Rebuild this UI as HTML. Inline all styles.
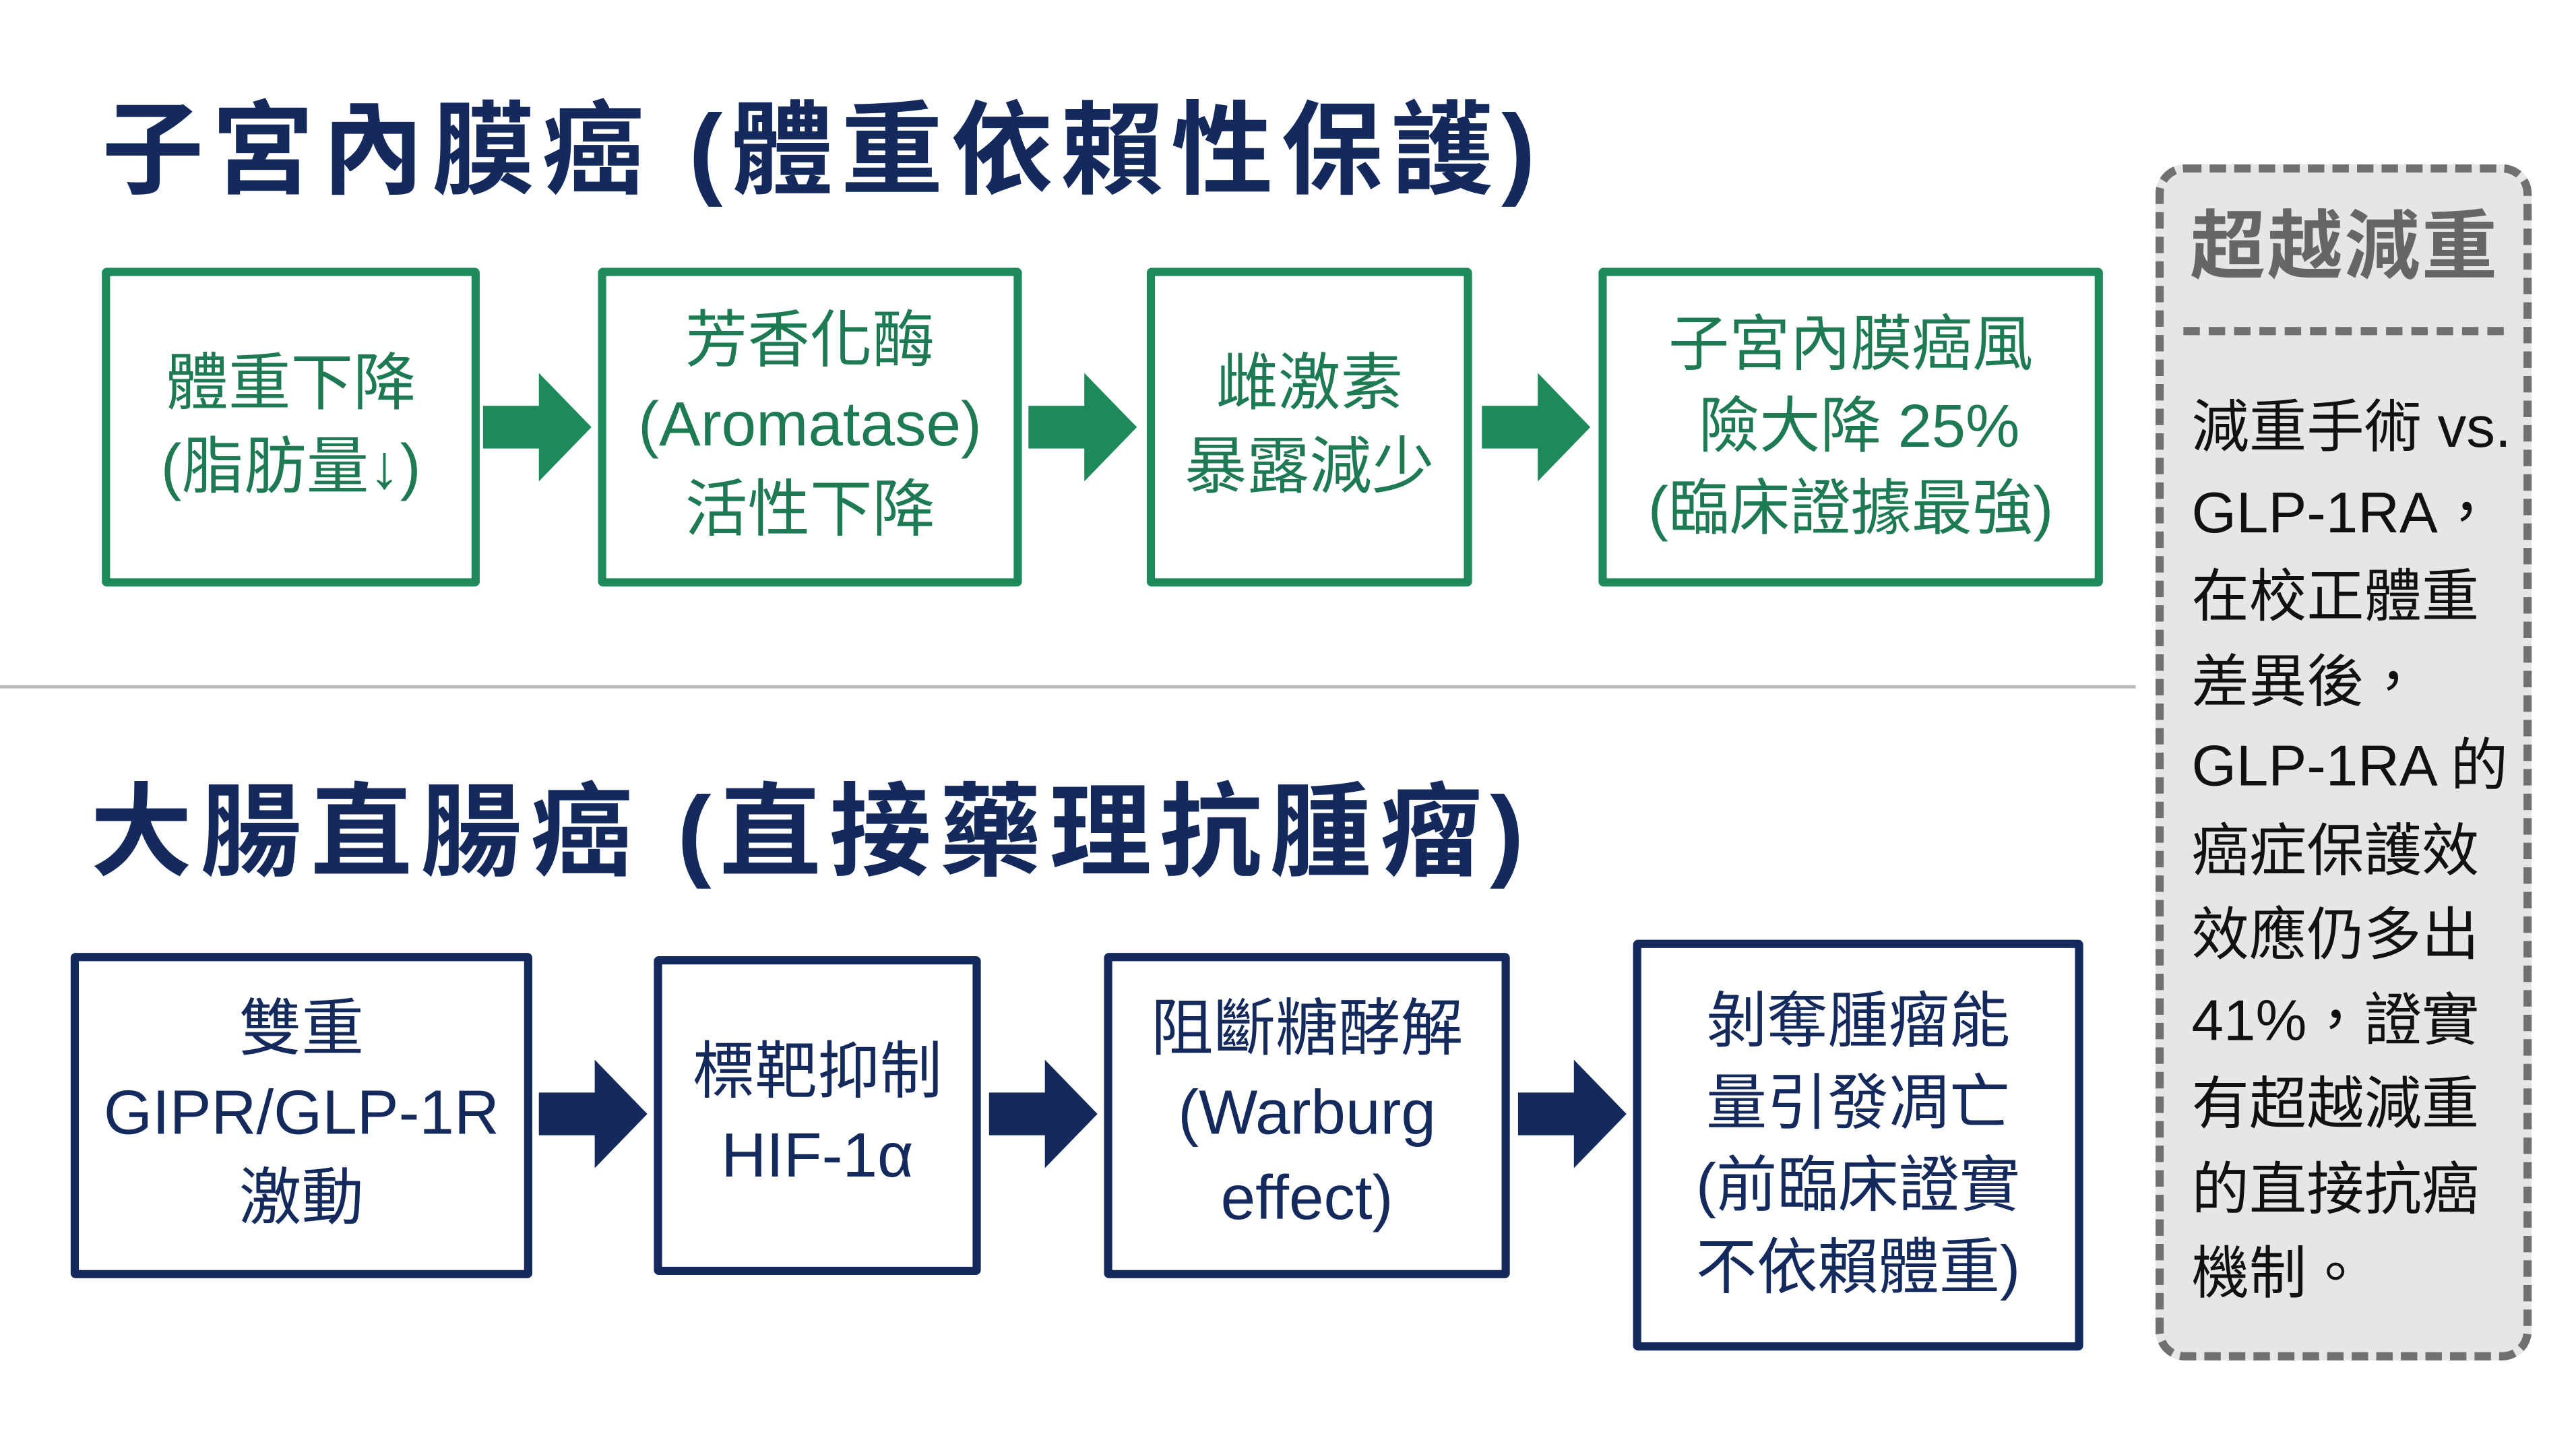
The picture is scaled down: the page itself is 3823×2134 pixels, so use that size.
<!DOCTYPE html>
<html><head><meta charset="utf-8"><style>
html,body{margin:0;padding:0;background:#fff;width:3823px;height:2134px;overflow:hidden}
#c{position:absolute;left:0;top:0;width:1568px;height:875px;transform:scale(2.4382);transform-origin:0 0;font-family:"Liberation Sans","Noto Sans CJK TC",sans-serif}
.t{position:absolute;font-weight:bold;color:#142a5c;font-size:62px;white-space:nowrap;line-height:1;letter-spacing:5px}
.b{position:absolute;box-sizing:border-box;display:flex;align-items:center;justify-content:center;text-align:center;font-size:38px;line-height:1.35;border-radius:3px}
.g{border:5px solid #1e8a5c;color:#1e7a52}
.n{border:5px solid #142a5c;color:#142a5c}
svg{position:absolute}
#p{position:absolute;left:1312px;top:100px;width:229px;height:728px;box-sizing:border-box;border:5px dashed #707070;border-radius:18px;background:#e6e6e6}
</style></head><body><div id="c">
<div class="t" style="left:62px;top:62px">子宮內膜癌 (體重依賴性保護)</div>
<div class="b g" style="left:62px;top:163px;width:230px;height:194px">體重下降<br>(脂肪量↓)</div>
<div class="b g" style="left:364px;top:163px;width:258px;height:194px">芳香化酶<br>(Aromatase)<br>活性下降</div>
<div class="b g" style="left:698px;top:163px;width:198px;height:194px">雌激素<br>暴露減少</div>
<div class="b g" style="left:973px;top:163px;width:307px;height:194px;font-size:37px">子宮內膜癌風<br>&nbsp;險大降 25%<br>(臨床證據最強)</div>
<svg style="left:292px;top:225px" width="72" height="70"><polygon points="2,22 36,22 36,2 68,35 36,68 36,48 2,48" fill="#1e8a5c"/></svg>
<svg style="left:624px;top:225px" width="72" height="70"><polygon points="2,22 36,22 36,2 68,35 36,68 36,48 2,48" fill="#1e8a5c"/></svg>
<svg style="left:900px;top:225px" width="72" height="70"><polygon points="2,22 36,22 36,2 68,35 36,68 36,48 2,48" fill="#1e8a5c"/></svg>
<div style="position:absolute;left:0;top:417px;width:1300px;height:2px;background:#bbb"></div>
<div class="t" style="left:55px;top:477px">大腸直腸癌 (直接藥理抗腫瘤)</div>
<div class="b n" style="left:43px;top:580px;width:281px;height:198px">雙重<br>GIPR/GLP-1R<br>激動</div>
<div class="b n" style="left:398px;top:582px;width:199px;height:194px">標靶抑制<br>HIF-1α</div>
<div class="b n" style="left:672px;top:580px;width:247px;height:198px">阻斷糖酵解<br>(Warburg<br>effect)</div>
<div class="b n" style="left:994px;top:572px;width:274px;height:250px;font-size:37px">剝奪腫瘤能<br>量引發凋亡<br>(前臨床證實<br>不依賴體重)</div>
<svg style="left:326px;top:643px" width="72" height="70"><polygon points="2,22 36,22 36,2 68,35 36,68 36,48 2,48" fill="#142a5c"/></svg>
<svg style="left:600px;top:643px" width="72" height="70"><polygon points="2,22 36,22 36,2 68,35 36,68 36,48 2,48" fill="#142a5c"/></svg>
<svg style="left:922px;top:643px" width="72" height="70"><polygon points="2,22 36,22 36,2 68,35 36,68 36,48 2,48" fill="#142a5c"/></svg>
<div id="p">
<div style="position:absolute;left:16px;top:22px;font-size:46px;font-weight:bold;color:#666;line-height:1;letter-spacing:1px">超越減重</div>
<div style="position:absolute;left:12px;right:12px;top:94px;border-top:5px dashed #707070"></div>
<div style="position:absolute;left:17px;top:130px;font-size:35px;line-height:51.5px;color:#111;white-space:nowrap">減重手術 vs.<br>GLP-1RA，<br>在校正體重<br>差異後，<br>GLP-1RA 的<br>癌症保護效<br>效應仍多出<br>41%，證實<br>有超越減重<br>的直接抗癌<br>機制。</div>
</div>
</div></body></html>
